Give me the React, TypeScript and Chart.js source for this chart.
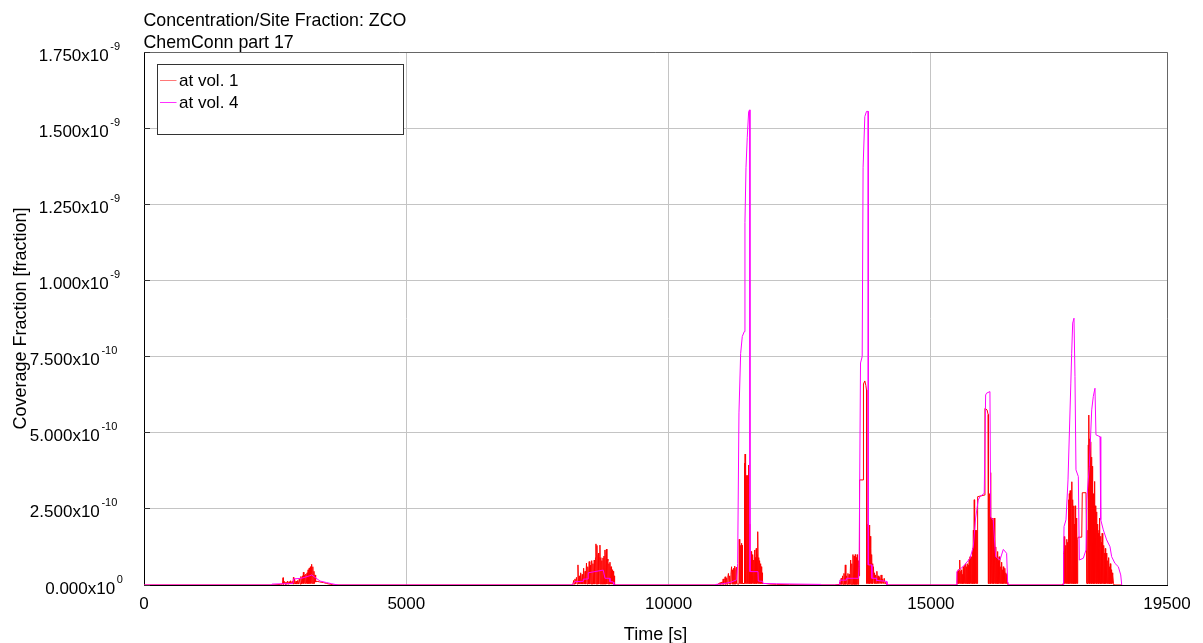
import { useEffect, useRef } from 'react';
import { Chart, registerables } from 'chart.js';

Chart.register(...registerables);

// ---- text ----
const CHART_TITLE = 'Concentration/Site Fraction: ZCO';
const CHART_SUBTITLE = 'ChemConn part 17';
const X_TITLE = 'Time [s]';
const Y_TITLE = 'Coverage Fraction [fraction]';
const SERIES_LABELS = ['at vol. 1', 'at vol. 4'];
const SERIES_COLORS = ['#ff0000', '#ff00ff'];
const LEGEND_SWATCH_COLORS = ['#ff7878', '#ff30ff'];

// ---- axes ----
const X_MAX = 19500;
const X_TICKS = [0, 5000, 10000, 15000, 19500];
// y values below are stored in units of Y_UNIT
const Y_UNIT = 1e-10;
const Y_MAX = 17.5;
const Y_STEP = 2.5;

// ---- at vol. 1 : [time s, fraction / 1e-10] ----
const VOL1_B1: [number, number][] = [
  [0, 0], [2440, 0], [2600, 0.02], [2640, 0.03], [2650, 0.24], [2658, 0.02], [2675, 0.12], [2690, 0.02],
  [2705, 0.1], [2720, 0.02], [2735, 0.13], [2750, 0.02], [2765, 0.11], [2780, 0.03], [2795, 0.14],
  [2810, 0.03], [2825, 0.12], [2840, 0.03], [2848, 0.25], [2856, 0.03], [2870, 0.2], [2885, 0.03],
  [2900, 0.13], [2915, 0.03], [2930, 0.15], [2945, 0.03], [2960, 0.2], [2975, 0.03], [2990, 0.28],
  [3005, 0.03], [3020, 0.3], [3030, 0.05], [3038, 0.42], [3048, 0.05], [3060, 0.32], [3072, 0.05],
  [3084, 0.36], [3096, 0.05], [3108, 0.4], [3118, 0.05], [3128, 0.5], [3138, 0.05], [3150, 0.56],
  [3160, 0.05], [3172, 0.6], [3182, 0.05], [3196, 0.68], [3206, 0.05], [3218, 0.6], [3228, 0.05],
  [3240, 0.45], [3250, 0.05], [3262, 0.33], [3272, 0.1], [3300, 0.12], [3350, 0.1], [3420, 0.08],
  [3480, 0.05], [3560, 0.02], [3620, 0],
];
const VOL1_B2: [number, number][] = [
  [8160, 0], [8177, 0.03], [8190, 0.15], [8200, 0.03], [8215, 0.2], [8228, 0.03], [8243, 0.25],
  [8256, 0.03], [8272, 0.66], [8282, 0.03], [8296, 0.3], [8310, 0.03], [8324, 0.4], [8338, 0.03],
  [8352, 0.35], [8366, 0.03], [8380, 0.55], [8394, 0.03], [8408, 0.45], [8420, 0.03], [8434, 0.72],
  [8446, 0.03], [8460, 0.6], [8472, 0.03], [8486, 0.77], [8498, 0.03], [8510, 0.65], [8522, 0.03],
  [8534, 0.8], [8546, 0.03], [8558, 0.7], [8570, 0.03], [8582, 0.82], [8594, 0.03], [8606, 0.9],
  [8615, 1.35], [8622, 0.03], [8634, 1.3], [8642, 0.03], [8652, 0.95], [8662, 1.05], [8670, 0.03],
  [8680, 0.9], [8691, 1.31], [8698, 0.03], [8708, 0.9], [8718, 0.03], [8728, 0.8], [8738, 0.03],
  [8749, 0.89], [8758, 0.03], [8768, 0.95], [8778, 0.03], [8787, 1.15], [8796, 0.03], [8806, 1.0],
  [8815, 1.18], [8824, 0.03], [8834, 0.85], [8844, 0.8], [8852, 0.03], [8862, 0.7], [8872, 0.03],
  [8882, 0.75], [8892, 0.03], [8902, 0.6], [8912, 0.03], [8922, 0.5], [8932, 0.03], [8942, 0.45],
  [8952, 0.03], [8962, 0.3], [8970, 0],
];
const VOL1_B3: [number, number][] = [
  [10930, 0], [10950, 0.05], [10965, 0.02], [10980, 0.08], [10995, 0.02], [11010, 0.1], [11025, 0.02],
  [11040, 0.2], [11052, 0.02], [11066, 0.15], [11078, 0.27], [11090, 0.02], [11104, 0.22], [11116, 0.02],
  [11128, 0.25], [11140, 0.38], [11152, 0.03], [11164, 0.3], [11176, 0.03], [11188, 0.35], [11200, 0.6],
  [11210, 0.03], [11220, 0.5], [11230, 0.03], [11240, 0.55], [11250, 0.03], [11260, 0.62], [11270, 0.03],
  [11280, 0.5], [11290, 0.58], [11298, 0.05], [11320, 0.03], [11341, 0.03], [11346, 1.5], [11352, 0.05],
  [11360, 1.37], [11367, 0.05], [11374, 1.3], [11381, 0.05], [11388, 1.37], [11395, 0.05], [11402, 1.3],
  [11408, 0.05], [11440, 0.05], [11446, 4.0], [11452, 0.05], [11458, 4.3], [11464, 0.05], [11470, 4.1],
  [11476, 0.05], [11482, 3.6], [11488, 0.05], [11494, 2.2], [11500, 0.05], [11508, 3.6], [11514, 0.05],
  [11520, 3.94], [11526, 0.05], [11532, 3.3], [11538, 0.05], [11544, 2.0], [11550, 0.05], [11558, 0.8],
  [11566, 0.05], [11574, 1.1], [11582, 0.05], [11590, 0.85], [11598, 0.05], [11606, 1.0], [11614, 0.05],
  [11622, 0.82], [11630, 0.05], [11638, 1.15], [11646, 0.05], [11654, 0.9], [11662, 0.05], [11670, 1.2],
  [11678, 0.05], [11686, 1.0], [11694, 0.05], [11703, 1.75], [11710, 0.05], [11718, 0.9], [11726, 0.05],
  [11734, 0.8], [11742, 0.05], [11750, 0.7], [11758, 0.05], [11766, 0.6], [11774, 0.05], [11782, 0.4],
  [11790, 0.05], [11850, 0.05], [11930, 0.03], [12060, 0.02], [12300, 0.01], [12900, 0],
];
const VOL1_B4: [number, number][] = [
  [13160, 0], [13250, 0.02], [13263, 0.1], [13275, 0.02], [13290, 0.22], [13302, 0.02], [13316, 0.3],
  [13328, 0.02], [13342, 0.38], [13354, 0.02], [13368, 0.66], [13378, 0.02], [13392, 0.3], [13404, 0.02],
  [13418, 0.38], [13430, 0.02], [13444, 0.35], [13456, 0.02], [13470, 0.82], [13480, 0.02], [13492, 0.7],
  [13502, 0.02], [13514, 1.0], [13524, 0.02], [13536, 0.95], [13546, 0.02], [13558, 1.0], [13568, 0.02],
  [13580, 0.9], [13590, 0.02], [13602, 1.0], [13612, 0.02], [13622, 0.8], [13630, 0.3], [13634, 2.57],
  [13645, 3.45], [13707, 3.45], [13714, 6.6], [13740, 6.7], [13760, 6.55], [13772, 6.4], [13778, 0.05],
  [13786, 1.9], [13793, 0.05], [13800, 2.0], [13807, 0.05], [13814, 1.85], [13821, 0.05], [13828, 1.97],
  [13835, 0.05], [13842, 1.6], [13849, 0.05], [13856, 1.2], [13863, 0.05], [13870, 1.0], [13878, 0.05],
  [13886, 0.7], [13895, 0.05], [13905, 0.6], [13915, 0.05], [13925, 0.4], [13935, 0.05], [13945, 0.33],
  [13958, 0.05], [13970, 0.45], [13982, 0.05], [13995, 0.3], [14008, 0.05], [14020, 0.25], [14035, 0.05],
  [14050, 0.33], [14065, 0.05], [14080, 0.2], [14095, 0.05], [14110, 0.22], [14125, 0.03], [14145, 0.1],
  [14160, 0],
];
const VOL1_B5: [number, number][] = [
  [15480, 0], [15496, 0.05], [15505, 0.45], [15513, 0.05], [15521, 0.5], [15529, 0.05], [15537, 0.4],
  [15545, 0.05], [15553, 0.82], [15561, 0.05], [15569, 0.45], [15577, 0.05], [15585, 0.5], [15593, 0.05],
  [15601, 0.35], [15609, 0.05], [15617, 0.6], [15625, 0.05], [15633, 0.55], [15641, 0.05], [15649, 0.65],
  [15657, 0.05], [15665, 0.7], [15673, 0.05], [15681, 0.6], [15689, 0.05], [15697, 0.7], [15705, 0.05],
  [15713, 0.65], [15721, 0.05], [15729, 0.85], [15737, 0.05], [15745, 0.93], [15753, 0.05], [15761, 0.9],
  [15769, 0.05], [15777, 0.93], [15785, 0.05], [15793, 1.2], [15801, 0.05], [15809, 1.8], [15817, 0.05],
  [15826, 2.8], [15833, 0.05], [15841, 1.8], [15849, 0.05], [15857, 1.75], [15865, 0.05], [15873, 1.8],
  [15880, 0.05], [15890, 2.9], [16016, 2.95], [16030, 5.8], [16070, 5.75], [16090, 5.6], [16096, 0.05],
  [16112, 0.05], [16120, 3.0], [16128, 0.05], [16136, 3.69], [16143, 0.05], [16150, 2.2], [16157, 0.05],
  [16164, 2.1], [16171, 0.05], [16178, 2.2], [16185, 0.05], [16192, 2.0], [16199, 0.05], [16207, 2.2],
  [16214, 0.05], [16221, 1.6], [16228, 0.05], [16236, 1.25], [16244, 0.05], [16252, 0.9], [16260, 0.05],
  [16268, 1.1], [16276, 0.05], [16284, 0.8], [16292, 0.05], [16300, 0.93], [16308, 0.05], [16316, 0.7],
  [16324, 0.05], [16332, 0.6], [16340, 0.05], [16348, 0.75], [16356, 0.05], [16364, 0.5], [16372, 0.05],
  [16380, 0.6], [16388, 0.05], [16396, 0.45], [16404, 0.05], [16412, 0.55], [16420, 0.05], [16428, 0.4],
  [16436, 0.05], [16444, 0.35], [16452, 0.05], [16462, 0.1], [16470, 0],
];
const VOL1_B6: [number, number][] = [
  [17500, 0], [17518, 0.05], [17526, 1.1], [17534, 0.05], [17542, 1.59], [17550, 0.05], [17558, 1.2],
  [17566, 0.05], [17574, 1.3], [17582, 0.05], [17590, 1.5], [17598, 0.05], [17606, 1.4], [17614, 0.05],
  [17622, 2.8], [17630, 0.05], [17638, 3.0], [17646, 0.05], [17654, 3.1], [17662, 0.05], [17670, 2.9],
  [17678, 0.05], [17686, 3.39], [17694, 0.05], [17702, 2.8], [17710, 0.05], [17718, 2.6], [17726, 0.05],
  [17734, 2.0], [17742, 0.05], [17750, 2.6], [17758, 0.05], [17766, 2.2], [17774, 0.05], [17782, 1.8],
  [17790, 0.05], [17798, 1.5], [17806, 1.57], [17875, 1.57], [17885, 3.03], [17956, 3.03], [17964, 1.8],
  [17975, 0.05], [17994, 0.05], [18000, 4.6], [18006, 0.05], [18013, 5.58], [18019, 0.05], [18025, 4.8],
  [18031, 0.05], [18037, 4.5], [18043, 0.05], [18049, 4.7], [18055, 0.05], [18061, 4.2], [18067, 0.05],
  [18073, 3.9], [18079, 0.05], [18085, 3.2], [18091, 0.05], [18097, 3.0], [18103, 0.05], [18109, 2.6],
  [18115, 0.05], [18121, 3.4], [18127, 0.05], [18133, 2.6], [18139, 0.05], [18145, 2.2], [18151, 0.05],
  [18157, 2.4], [18163, 0.05], [18169, 1.9], [18175, 0.05], [18181, 2.0], [18187, 0.05], [18193, 1.7],
  [18199, 0.05], [18205, 1.8], [18211, 0.05], [18219, 2.2], [18226, 0.05], [18234, 1.6], [18241, 0.05],
  [18249, 1.4], [18256, 0.05], [18264, 1.7], [18271, 0.05], [18279, 1.2], [18286, 0.05], [18294, 1.3],
  [18301, 0.05], [18309, 1.05], [18316, 0.05], [18324, 1.2], [18331, 0.05], [18339, 1.0], [18346, 0.05],
  [18356, 1.05], [18364, 0.05], [18372, 0.8], [18380, 0.05], [18388, 0.9], [18396, 0.05], [18404, 0.6],
  [18412, 0.05], [18420, 0.7], [18428, 0.05], [18436, 0.5], [18444, 0.05], [18452, 0.4], [18460, 0.05],
  [18470, 0.3], [18480, 0.05], [18490, 0], [18640, 0],
];

// ---- at vol. 4 : [time s, fraction / 1e-10] ----
const VOL4_B1: [number, number][] = [
  [0, 0], [2430, 0], [2440, 0.03], [2840, 0.05], [2850, 0.2], [3000, 0.22], [3150, 0.3], [3200, 0.33],
  [3259, 0.25], [3355, 0.13], [3480, 0.08], [3580, 0.04], [3700, 0],
];
const VOL4_B2: [number, number][] = [
  [8160, 0], [8182, 0.05], [8215, 0.11], [8370, 0.12], [8373, 0.19], [8465, 0.2], [8468, 0.4],
  [8754, 0.49], [8787, 0.22], [8880, 0.22], [8882, 0.11], [8945, 0.1], [8955, 0],
];
const VOL4_B3: [number, number][] = [
  [10880, 0], [10900, 0.02], [10979, 0.03], [11100, 0.06], [11201, 0.1], [11297, 0.17], [11316, 0.71],
  [11341, 5.65], [11373, 7.6], [11404, 8.16], [11442, 8.32], [11455, 11.9], [11475, 13.7], [11499, 14.7],
  [11526, 15.55], [11545, 15.6], [11551, 0.44], [11703, 0.44], [11710, 0.13], [11793, 0.12], [11800, 0.05],
  [12060, 0.04], [12900, 0.02], [12920, 0],
];
const VOL4_B4: [number, number][] = [
  [13200, 0], [13255, 0], [13263, 0.16], [13390, 0.16], [13392, 0.22], [13620, 0.22], [13631, 0.6],
  [13658, 7.29], [13690, 7.5], [13707, 13.7], [13740, 15.38], [13772, 15.55], [13803, 15.55], [13806, 0.66],
  [13870, 0.66], [13875, 0.22], [13960, 0.22], [13965, 0.15], [14154, 0.12], [14160, 0],
];
const VOL4_B5: [number, number][] = [
  [15480, 0], [15494, 0], [15496, 0.44], [15611, 0.6], [15744, 0.87], [15807, 1.25], [15852, 2.2],
  [15902, 2.79], [15935, 2.9], [16016, 3.01], [16043, 6.24], [16062, 6.3], [16125, 6.35], [16139, 2.24],
  [16188, 2.13], [16234, 0.93], [16316, 0.82], [16380, 1.17], [16443, 1.04], [16462, 0.1], [16480, 0],
];
const VOL4_B6: [number, number][] = [
  [17500, 0], [17525, 0], [17530, 1.04], [17537, 1.92], [17575, 2.14], [17613, 3.45], [17667, 6.63],
  [17683, 7.61], [17702, 8.6], [17727, 8.76], [17746, 6.84], [17765, 3.78], [17810, 3.56], [17829, 0.82],
  [17905, 0.88], [17956, 1.15], [17970, 2.79], [18019, 3.89], [18065, 5.75], [18095, 6.19], [18127, 6.46],
  [18146, 4.93], [18223, 4.87], [18237, 2.14], [18286, 1.81], [18350, 1.48], [18413, 1.26], [18445, 0.93],
  [18508, 0.71], [18572, 0.6], [18618, 0.33], [18637, 0],
];

const VOL1 = [...VOL1_B1, ...VOL1_B2, ...VOL1_B3, ...VOL1_B4, ...VOL1_B5, ...VOL1_B6];
const VOL4 = [...VOL4_B1, ...VOL4_B2, ...VOL4_B3, ...VOL4_B4, ...VOL4_B5, ...VOL4_B6];

const FONT = '"Liberation Sans", Arial, Helvetica, sans-serif';
const GRID_COLOR = '#c4c4c4';

// mantissa / exponent pair for a tick, e.g. 2.5 -> ["2.500x10", "-10"]
function sciParts(v: number): [string, string] {
  const real = v * Y_UNIT;
  if (real === 0) return ['0.000x10', '0'];
  const exp = Math.floor(Math.log10(real) + 1e-9);
  const mant = real / Math.pow(10, exp);
  return [mant.toFixed(3) + 'x10', String(exp)];
}

const decorations = {
  id: 'decorations',
  afterDraw(chart: any) {
    const { ctx, chartArea: a } = chart;
    const xs = chart.scales.x;
    const ys = chart.scales.y;
    ctx.save();

    // top and right frame
    ctx.strokeStyle = '#666';
    ctx.lineWidth = 1;
    ctx.beginPath();
    ctx.moveTo(a.left, a.top + 0.5);
    ctx.lineTo(a.right + 0.5, a.top + 0.5);
    ctx.lineTo(a.right + 0.5, a.bottom);
    ctx.stroke();

    // inner tick marks on the value axis
    ctx.strokeStyle = '#333';
    ctx.beginPath();
    ys.ticks.forEach((t: any) => {
      const py = Math.round(ys.getPixelForValue(t.value) - 0.5) + 0.5;
      ctx.moveTo(a.left, py);
      ctx.lineTo(a.left + 6, py);
    });
    ctx.stroke();

    ctx.fillStyle = '#000';
    ctx.textBaseline = 'alphabetic';

    // titles
    ctx.font = `17.8px ${FONT}`;
    ctx.textAlign = 'left';
    ctx.fillText(CHART_TITLE, a.left - 0.5, 26);
    ctx.fillText(CHART_SUBTITLE, a.left - 0.5, 48);

    // value-axis labels with superscript exponents
    ys.ticks.forEach((t: any) => {
      const py = ys.getPixelForValue(t.value);
      const [m, e] = sciParts(t.value);
      ctx.font = `11px ${FONT}`;
      const we = ctx.measureText(e).width;
      const supRight = a.left + 1.7 - 2.8 * e.length - 20;
      ctx.textAlign = 'left';
      ctx.fillText(e, supRight - we, py - 2.5);
      ctx.font = `17px ${FONT}`;
      ctx.textAlign = 'right';
      ctx.fillText(m, supRight - we - 1.6, py + 8.5);
    });

    // time-axis labels
    ctx.font = `17px ${FONT}`;
    ctx.textAlign = 'center';
    xs.ticks.forEach((t: any) => {
      ctx.fillText(String(t.value), xs.getPixelForValue(t.value), a.bottom + 23.5);
    });

    // axis titles
    ctx.font = `18px ${FONT}`;
    ctx.fillText(X_TITLE, (a.left + a.right) / 2, 639.5);
    ctx.save();
    ctx.translate(25.5, (a.top + a.bottom) / 2);
    ctx.rotate(-Math.PI / 2);
    ctx.fillText(Y_TITLE, 0, 0);
    ctx.restore();

    // legend box
    const lx = a.left + 13.5;
    const ly = a.top + 12.5;
    ctx.fillStyle = '#fff';
    ctx.fillRect(lx, ly, 246, 70);
    ctx.strokeStyle = '#333';
    ctx.strokeRect(lx, ly, 246, 70);
    chart.data.datasets.forEach((ds: any, i: number) => {
      const rowY = ly + 16 + i * 22;
      ctx.strokeStyle = LEGEND_SWATCH_COLORS[i];
      ctx.beginPath();
      ctx.moveTo(lx + 2.5, rowY);
      ctx.lineTo(lx + 19, rowY);
      ctx.stroke();
      ctx.fillStyle = '#000';
      ctx.font = `17px ${FONT}`;
      ctx.textAlign = 'left';
      ctx.fillText(ds.label, lx + 21.5, rowY + 5.5);
    });

    ctx.restore();
  },
};

export default function App() {
  const canvasRef = useRef<HTMLCanvasElement | null>(null);

  useEffect(() => {
    document.body.style.margin = '0';
    const canvas = canvasRef.current;
    if (!canvas) return;
    const toXY = (pts: [number, number][]) => pts.map(([x, y]) => ({ x, y }));

    const chart = new Chart(canvas, {
      type: 'line',
      data: {
        datasets: [
          {
            label: SERIES_LABELS[0],
            data: toXY(VOL1),
            borderColor: SERIES_COLORS[0],
            borderWidth: 1,
            pointRadius: 0,
            tension: 0,
            fill: false,
            order: 1,
          },
          {
            label: SERIES_LABELS[1],
            data: toXY(VOL4),
            borderColor: SERIES_COLORS[1],
            borderWidth: 1,
            pointRadius: 0,
            tension: 0,
            fill: false,
            order: 0,
          },
        ],
      },
      options: {
        responsive: false,
        animation: false,
        events: [],
        layout: { padding: { left: 0, top: 52, right: 36, bottom: 0 } },
        plugins: {
          legend: { display: false },
          title: { display: false },
          tooltip: { enabled: false },
        },
        scales: {
          x: {
            type: 'linear',
            min: 0,
            max: X_MAX,
            afterBuildTicks: (s: any) => {
              s.ticks = X_TICKS.map((value) => ({ value }));
            },
            afterFit: (s: any) => {
              s.height = 58;
            },
            ticks: { display: false },
            grid: { color: GRID_COLOR, drawTicks: false, lineWidth: 1 },
            border: { color: '#000', width: 1 },
          },
          y: {
            type: 'linear',
            min: 0,
            max: Y_MAX,
            afterFit: (s: any) => {
              s.width = 144;
            },
            ticks: { display: false, stepSize: Y_STEP },
            grid: { color: GRID_COLOR, drawTicks: false, lineWidth: 1 },
            border: { color: '#000', width: 1 },
          },
        },
      } as any,
      plugins: [decorations],
    });

    return () => chart.destroy();
  }, []);

  return <canvas ref={canvasRef} width={1203} height={643} style={{ display: 'block' }} />;
}
